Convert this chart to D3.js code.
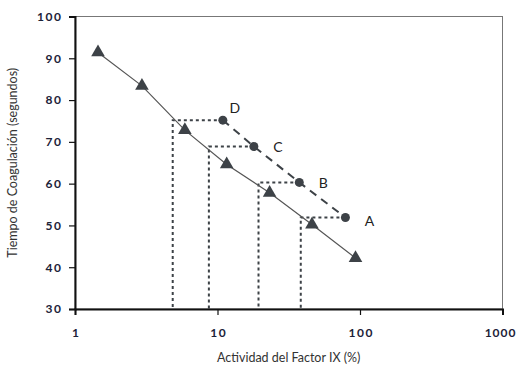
<!DOCTYPE html>
<html>
<head>
<meta charset="utf-8">
<script src="https://cdn.jsdelivr.net/npm/d3@7"></script>
<style>
  body { margin: 0; background: #fff; }
  svg text { font-family: Lato, "Open Sans", sans-serif; }
</style>
</head>
<body>
<div id="chart"></div>
<script>
let width = 517, height = 370;

// Standard curve (triangles)
let stdX = [1.45, 2.95, 5.9, 11.6, 23.2, 46, 93];
let stdY = [91.4, 83.4, 72.8, 64.6, 57.8, 50.2, 42.2];

// Sample dilutions (circles)
let sampleLabels = ["D", "C", "B", "A"];
let sampleX = [10.9, 18.0, 37.5, 79];
let sampleY = [75.2, 68.9, 60.3, 51.9];
// activity for each sample
let readX = [4.85, 8.7, 19.4, 38.4];

let xTicks = [1, 10, 100, 1000];
let yTicks = [30, 40, 50, 60, 70, 80, 90, 100];

let margin = {top: 16.5, right: 14.5, bottom: 61, left: 75};

let svg = d3.select("#chart")
    .append("svg")
    .attr("width", width)
    .attr("height", height);

let x = d3.scaleLog().domain([1, 1000]).range([margin.left, width - margin.right]);
let y = d3.scaleLinear().domain([30, 100]).range([height - margin.bottom, margin.top]);

// plot frame (top + right in gray)
svg.append("rect")
    .attr("x", x(1)).attr("y", y(100))
    .attr("width", x(1000) - x(1)).attr("height", y(30) - y(100))
    .attr("fill", "none").attr("stroke", "#777").attr("stroke-width", 1);

// dotted read-off lines
let drops = sampleX.map((v, i) => ({sx: v, sy: sampleY[i], rx: readX[i]}));
svg.append("g").selectAll("path")
    .data(drops)
    .enter().append("path")
    .attr("d", d => `M${x(d.sx)},${y(d.sy)}H${x(d.rx)}V${y(30)}`)
    .attr("fill", "none")
    .attr("stroke", "#3d4247")
    .attr("stroke-width", 2)
    .attr("stroke-dasharray", "3,3");

// standard line
let stdData = stdX.map((v, i) => [v, stdY[i]]);
svg.append("path")
    .datum(stdData)
    .attr("d", d3.line().x(d => x(d[0])).y(d => y(d[1])))
    .attr("fill", "none")
    .attr("stroke", "#555")
    .attr("stroke-width", 1.2);

svg.append("g").selectAll("path")
    .data(stdData)
    .enter().append("path")
    .attr("d", d3.symbol().type(d3.symbolTriangle).size(80))
    .attr("transform", d => `translate(${x(d[0])},${y(d[1])})`)
    .attr("fill", "#3d4247");

// sample dashed line
let sampleData = sampleX.map((v, i) => [v, sampleY[i]]);
svg.append("path")
    .datum(sampleData)
    .attr("d", d3.line().x(d => x(d[0])).y(d => y(d[1])))
    .attr("fill", "none")
    .attr("stroke", "#3d4247")
    .attr("stroke-width", 2)
    .attr("stroke-dasharray", "8,6");

svg.append("g").selectAll("circle")
    .data(sampleData)
    .enter().append("circle")
    .attr("cx", d => x(d[0]))
    .attr("cy", d => y(d[1]))
    .attr("r", 4.5)
    .attr("fill", "#3d4247");

// sample labels (D sits above, the rest to the right)
svg.append("g").selectAll("text")
    .data(sampleData)
    .enter().append("text")
    .attr("x", (d, i) => x(d[0]) + (i == 0 ? 12 : 24))
    .attr("y", (d, i) => y(d[1]) + (i == 0 ? -7 : i == 3 ? 9 : 6))
    .attr("text-anchor", "middle")
    .attr("font-size", 14)
    .attr("fill", "#222")
    .text((d, i) => sampleLabels[i]);

// axes
let xAxis = svg.append("g")
    .attr("transform", `translate(0,${y(30)})`)
    .call(d3.axisBottom(x).tickValues(xTicks).tickFormat(d3.format("d")).tickSize(6).tickPadding(13));
let yAxis = svg.append("g")
    .attr("transform", `translate(${x(1)},0)`)
    .call(d3.axisLeft(y).tickValues(yTicks).tickSize(6).tickPadding(8));

[xAxis, yAxis].forEach(a => {
    a.select(".domain").attr("stroke", "#111").attr("stroke-width", 2);
    a.selectAll(".tick line").attr("stroke", "#111").attr("stroke-width", 1.2);
    a.selectAll(".tick text")
        .attr("font-size", 12)
        .attr("fill", "#1c2238")
        .attr("font-weight", "bold")
        .style("letter-spacing", "1.5px");
});
// letter-spacing leaves a trailing gap; nudge labels to stay centred
xAxis.selectAll(".tick text").attr("dx", 0.75);
yAxis.selectAll(".tick text").attr("dx", 1.5);
// keep the last x label inside the page
xAxis.selectAll(".tick text").filter(d => d == 1000)
    .attr("text-anchor", "end")
    .attr("x", width - 1 - x(1000))
    .attr("dx", 0)
    .style("letter-spacing", "1px");

// axis titles
svg.append("text")
    .attr("x", x(31.6))
    .attr("y", 362)
    .attr("text-anchor", "middle")
    .attr("font-size", 12.5)
    .attr("fill", "#333")
    .text("Actividad del Factor IX (%)");

svg.append("text")
    .attr("transform", `translate(17,${y(65)}) rotate(-90)`)
    .attr("text-anchor", "middle")
    .attr("font-size", 12.5)
    .attr("fill", "#333")
    .text("Tiempo de Coagulación (segundos)");
</script>
</body>
</html>
